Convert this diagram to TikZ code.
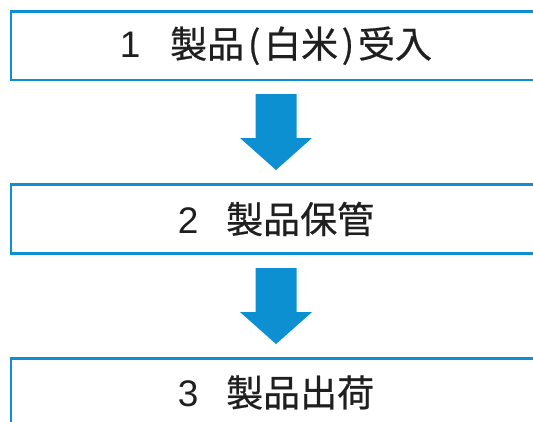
\documentclass[tikz,border=0pt]{standalone}
\usepackage{fontspec}
\setmainfont[FakeBold=0.6]{Noto Sans CJK JP}
\newfontfamily\digitfont{Liberation Sans}
\usetikzlibrary{calc}
\definecolor{flowblue}{RGB}{12,144,210}
\tikzset{
  stagebox/.style={draw=flowblue, line width=2.6pt, minimum width=530pt, minimum height=68.5pt,
    inner sep=0pt, font=\fontsize{37}{40}\selectfont, text=black!88},
  downarr/.pic={\fill[flowblue] (-20.5,0) -- (20.5,0) -- (20.5,-44) -- (36,-44) -- (0,-76)
     -- (-36,-44) -- (-20.5,-44) -- cycle;}
}
\newcommand{\nb}[1]{\makebox[0.54em]{#1}}
\newcommand{\dg}[1]{{\digitfont #1}}
\begin{document}
\begin{tikzpicture}[x=1pt,y=1pt]
\useasboundingbox (0,0) rectangle (533,-421);
\node[stagebox] (b1) at (276,-45.75) {\dg{1}\hspace{0.8em}製品\nb{(}白米\nb{)}受入};
\node[stagebox] (b2) at (276,-219) {\dg{2}\hspace{0.75em}製品保管};
\node[stagebox] (b3) at (276,-393) {\raisebox{4pt}{\dg{3}\hspace{0.75em}製品出荷}};
\pic at ($(b1.south)+(0,-12.7)$) {downarr};
\pic at ($(b2.south)+(0,-13.5)$) {downarr};
\end{tikzpicture}
\end{document}
